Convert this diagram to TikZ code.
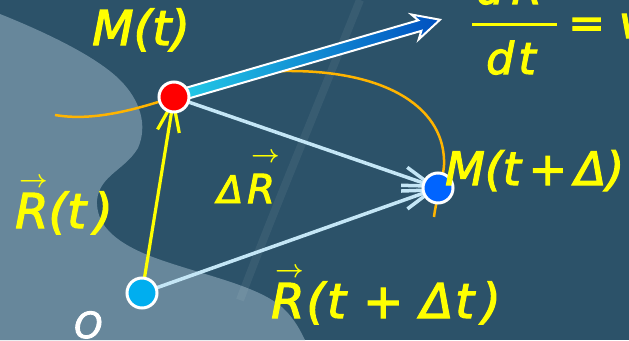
\documentclass[tikz,border=0pt]{standalone}
\usepackage{fontspec}
\setmainfont{DejaVu Sans}[ItalicFeatures={FakeBold=2.5}]
\usetikzlibrary{arrows.meta}
\definecolor{bgdark}{HTML}{2C5269}
\definecolor{bglight}{HTML}{67879B}
\definecolor{txtyellow}{HTML}{FFFF00}
\definecolor{curveorange}{HTML}{FFB400}
\definecolor{lightblue}{HTML}{C4E6F6}
\definecolor{dotred}{HTML}{FF0000}
\definecolor{dotcyan}{HTML}{00AEEF}
\definecolor{dotblue}{HTML}{0064FF}
\definecolor{arrowcyan}{HTML}{22C8E6}
\definecolor{arrowmid}{HTML}{0A78D8}
\definecolor{arrowblue}{HTML}{0050C0}
\newcommand\fsz[1]{\fontsize{#1}{#1}\selectfont}
\newcommand\vecR{\makebox[0pt][l]{\kern4pt\raisebox{41pt}{\fsz{36}\boldmath$\rightarrow$}}R}
\pgfdeclarelayer{bglayer}
\pgfdeclarelayer{linelayer}
\pgfsetlayers{bglayer,linelayer,main}
\begin{document}
\begin{tikzpicture}[x=1pt,y=-1pt,
  lbl/.style={text=txtyellow, inner sep=0pt, anchor=base west},
  dot/.style={circle, draw=white, line width=3pt, minimum size=30pt, inner sep=0pt},
  yvec/.style={draw=txtyellow, line width=3.2pt, -{Straight Barb[length=30pt,width=22pt]}},
  bvec/.style={draw=lightblue, line width=3.5pt, -{Straight Barb[length=30pt,width=19pt]}},
  traj/.style={draw=curveorange, line width=2.5pt}
]
\useasboundingbox (0,0) rectangle (629,340);
\clip (0,0) rectangle (629,340);
\begin{pgfonlayer}{bglayer}
\fill[bgdark] (0,0) rectangle (629,340);
\fill[bglight] (0,14) .. controls (40,30) and (95,55) .. (120,80)
  .. controls (140,100) and (148,125) .. (138,148)
  .. controls (125,170) and (100,175) .. (97,200)
  .. controls (96,222) and (110,240) .. (150,256)
  .. controls (200,275) and (260,285) .. (285,310)
  .. controls (295,320) and (300,330) .. (305,340) -- (0,340) -- cycle;
\draw[white, opacity=0.06, line width=8pt] (360,0) .. controls (320,100) and (270,220) .. (240,300);
\end{pgfonlayer}

% points
\node[dot, fill=dotred] (Mt) at (174,97) {};
\node[dot, fill=dotcyan] (O) at (142,293) {};
\node[dot, fill=dotblue] (Mdt) at (438,188) {};

\begin{pgfonlayer}{linelayer}
\draw[traj] (55,115) .. controls (95,122) and (140,108) .. (Mt.center)
  .. controls (205,85) and (240,72) .. (285,71)
  .. controls (390,70) and (446,110) .. (444,165)
  .. controls (443,180) and (436,200) .. (434,217);
\draw[bvec] (Mt.center) -- (Mdt.center);
\draw[bvec] (O.center) -- (Mdt.center);
\draw[yvec] (O.center) -- (Mt.center);
\begin{scope}[shift={(Mt.center)}, rotate=16.2]
\shade[draw=white, line width=2pt, left color=arrowcyan, middle color=arrowmid, right color=arrowblue]
  (12,-5.5) -- (256,-5.5) -- (251,-13) -- (277,0) -- (251,13) -- (256,5.5) -- (12,5.5) -- cycle;
\end{scope}
\end{pgfonlayer}

% labels
\node[lbl, font=\itshape\fsz{48}] (lMt) at (92,45) {M(t)};
\node[lbl, font=\itshape\fsz{48}] (lRt) at (15,228) {\vecR(t\,)};
\node[lbl, font=\itshape\fsz{40}] (lDR) at (217,203) {{\fsz{38}Δ}\hspace{4pt}\vecR};
\node[lbl, font=\itshape\fsz{48}\addfontfeature{LetterSpace=4}] (lRtdt) at (271,318) {\vecR(t + Δt\,)};
\node[lbl, font=\itshape\fsz{46}] (lMtd) at (445,185) {M(t\,+\,Δ)};
\node[lbl, font=\itshape\fsz{44}] (lnum) at (476,4) {d\,\vecR};
\node[lbl, font=\itshape\fsz{44}\addfontfeature{LetterSpace=10}] (ldt) at (486,74) {dt};
\node[lbl, font=\itshape\fsz{44}] (leq) at (568,38) {= v};
\coordinate (barL) at (472,24);
\coordinate (barR) at (557,24);
\draw[txtyellow, line width=3pt] (barL) -- (barR);
\node[lbl, text=white, font=\itshape\fsz{36}] (lO) at (74,338) {O};
\end{tikzpicture}
\end{document}
